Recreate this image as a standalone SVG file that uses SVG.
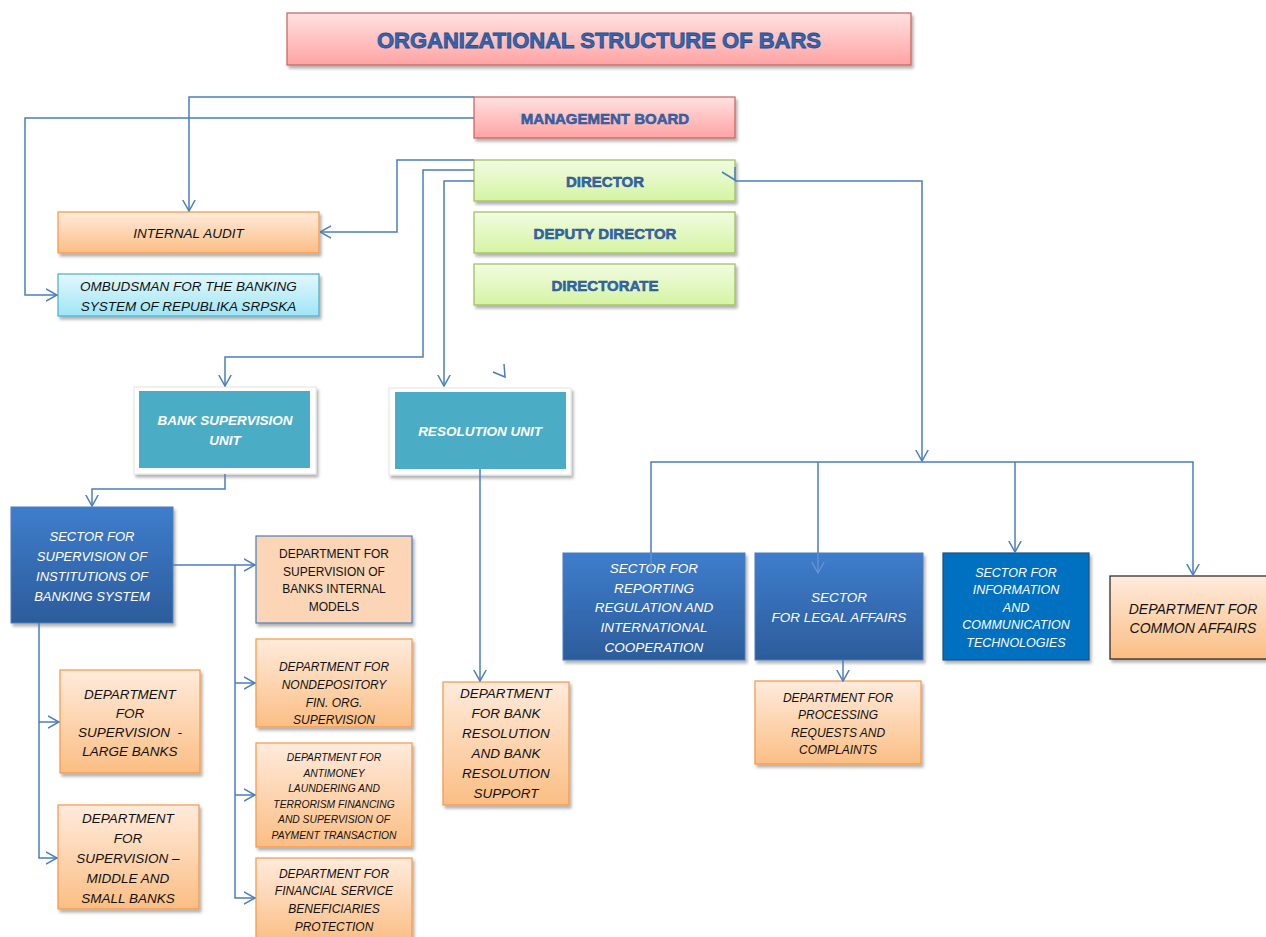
<svg xmlns="http://www.w3.org/2000/svg" width="1266" height="937" viewBox="0 0 1266 937">
<defs>
  <linearGradient id="gRed" x1="0" y1="0" x2="0" y2="1"><stop offset="0" stop-color="#FFE1E1"/><stop offset="1" stop-color="#FFA3A3"/></linearGradient>
  <linearGradient id="gGreen" x1="0" y1="0" x2="0" y2="1"><stop offset="0" stop-color="#F1FCE2"/><stop offset="1" stop-color="#D5F4A2"/></linearGradient>
  <linearGradient id="gOrange" x1="0" y1="0" x2="0" y2="1"><stop offset="0" stop-color="#FFEBDC"/><stop offset="1" stop-color="#FBBE84"/></linearGradient>
  <linearGradient id="gCyan" x1="0" y1="0" x2="0" y2="1"><stop offset="0" stop-color="#E2F8FD"/><stop offset="1" stop-color="#9FE5F6"/></linearGradient>
  <linearGradient id="gBlue" x1="0" y1="0" x2="0" y2="1"><stop offset="0" stop-color="#3E7DCC"/><stop offset="1" stop-color="#2C5C9B"/></linearGradient>
  <filter id="sh" x="-10%" y="-10%" width="130%" height="140%"><feDropShadow dx="2" dy="3" stdDeviation="1.6" flood-color="#000" flood-opacity="0.3"/></filter>
  <marker id="arr" viewBox="0 0 12 14" refX="11.5" refY="7" markerWidth="12" markerHeight="14" markerUnits="userSpaceOnUse" orient="auto">
    <path d="M0.5,0.8 L11.5,7 L0.5,13.2" fill="none" stroke="#4A7EBB" stroke-width="1.5"/>
  </marker>
  <marker id="arrFaint" viewBox="0 0 12 14" refX="11.5" refY="7" markerWidth="12" markerHeight="14" markerUnits="userSpaceOnUse" orient="auto">
    <path d="M0.5,0.8 L11.5,7 L0.5,13.2" fill="none" stroke="#6E95CF" stroke-width="1.2"/>
  </marker>
  <style>
    .red{fill:url(#gRed);stroke:#C9605C;stroke-width:1.2}
    .green{fill:url(#gGreen);stroke:#9BBB59;stroke-width:1.2}
    .orange{fill:url(#gOrange);stroke:#F79646;stroke-width:1.2}
    .cyan{fill:url(#gCyan);stroke:#4BACC6;stroke-width:1.2}
    .blue{fill:url(#gBlue);stroke:#4A7EBB;stroke-width:1}
    .outer{fill:#FFFFFF;stroke:#E4E4E4;stroke-width:1}
    .teal{fill:#4BACC6}
    .sh{filter:url(#sh)}
    text{font-family:"Liberation Sans",Arial,sans-serif;text-anchor:middle}
    .hd{font-weight:bold;fill:#3567B3;stroke:#284C84;stroke-width:0.5;font-size:15px}
    .ttl{font-size:22px;stroke-width:0.8}
    .it{font-style:italic;fill:#111}
    .wi{font-style:italic;fill:#FFFFFF}
    .wb{font-style:italic;font-weight:bold;fill:#FFFFFF;font-size:13.5px}
    .k{fill:#111}
    .c{fill:none;stroke:#4A7EBB;stroke-width:1.5}
    .cf{fill:none;stroke:#6E95CF;stroke-width:1.2}
  </style>
</defs>
<rect width="1266" height="937" fill="#FFFFFF"/>

<g id="title">
  <rect class="red sh" x="287" y="13" width="624" height="52"/>
  <text class="hd ttl" x="599" y="48">ORGANIZATIONAL STRUCTURE OF BARS</text>
</g>

<g id="management-board">
  <rect class="red sh" x="474" y="97" width="261" height="41"/>
  <text class="hd" x="605" y="123.5">MANAGEMENT BOARD</text>
</g>
<g id="director">
  <rect class="green sh" x="474" y="160" width="261" height="41"/>
  <text class="hd" x="605" y="186.5">DIRECTOR</text>
</g>
<g id="deputy-director">
  <rect class="green sh" x="474" y="212" width="261" height="41"/>
  <text class="hd" x="605" y="238.5">DEPUTY DIRECTOR</text>
</g>
<g id="directorate">
  <rect class="green sh" x="474" y="264" width="261" height="41"/>
  <text class="hd" x="605" y="290.5">DIRECTORATE</text>
</g>

<g id="internal-audit">
  <rect class="orange sh" x="58" y="212" width="261" height="41"/>
  <text class="it" font-size="13.5" x="188.5" y="237.5">INTERNAL AUDIT</text>
</g>
<g id="ombudsman">
  <rect class="cyan sh" x="58" y="274" width="261" height="42"/>
  <text class="it" font-size="13.5" x="188.5" y="291">OMBUDSMAN FOR THE BANKING</text>
  <text class="it" font-size="13.5" x="188.5" y="310.5">SYSTEM OF REPUBLIKA SRPSKA</text>
</g>

<g id="bank-supervision-unit">
  <rect class="outer sh" x="134" y="387" width="182" height="87"/>
  <rect class="teal" x="139" y="391" width="171" height="77"/>
  <text class="wb" x="225" y="425">BANK SUPERVISION</text>
  <text class="wb" x="225" y="445">UNIT</text>
</g>
<g id="resolution-unit">
  <rect class="outer sh" x="389" y="388" width="182" height="87"/>
  <rect class="teal" x="395" y="392" width="171" height="77"/>
  <text class="wb" x="480" y="436">RESOLUTION UNIT</text>
</g>

<g id="sector-supervision">
  <rect class="blue sh" x="11" y="507" width="162" height="116"/>
  <text class="wi" font-size="13" x="92" y="540.5">SECTOR FOR</text>
  <text class="wi" font-size="13" x="92" y="560.5">SUPERVISION OF</text>
  <text class="wi" font-size="13" x="92" y="580.5">INSTITUTIONS OF</text>
  <text class="wi" font-size="13" x="92" y="600.5">BANKING SYSTEM</text>
</g>

<g id="dept-internal-models">
  <rect class="sh" x="256" y="536" width="156" height="87" fill="#FBD5B5" stroke="#4A7EBB" stroke-width="1.2"/>
  <text class="k" font-size="12" x="334" y="557.5">DEPARTMENT FOR</text>
  <text class="k" font-size="12" x="334" y="575.5">SUPERVISION OF</text>
  <text class="k" font-size="12" x="334" y="592.5">BANKS INTERNAL</text>
  <text class="k" font-size="12" x="334" y="611">MODELS</text>
</g>
<g id="dept-nondepository">
  <rect class="orange sh" x="256" y="639" width="156" height="88"/>
  <text class="it" font-size="12" x="334" y="670.5">DEPARTMENT FOR</text>
  <text class="it" font-size="12" x="334" y="688.5">NONDEPOSITORY</text>
  <text class="it" font-size="12" x="334" y="706.5">FIN. ORG.</text>
  <text class="it" font-size="12" x="334" y="723.5">SUPERVISION</text>
</g>
<g id="dept-antimoney">
  <rect class="orange sh" x="256" y="743" width="156" height="104"/>
  <text class="it" font-size="10.3" x="334" y="760.5">DEPARTMENT FOR</text>
  <text class="it" font-size="10.3" x="334" y="776.5">ANTIMONEY</text>
  <text class="it" font-size="10.3" x="334" y="791.5">LAUNDERING AND</text>
  <text class="it" font-size="10.3" x="334" y="807.5">TERRORISM FINANCING</text>
  <text class="it" font-size="10.3" x="334" y="822.5">AND SUPERVISION OF</text>
  <text class="it" font-size="10.3" x="334" y="838.5">PAYMENT TRANSACTION</text>
</g>
<g id="dept-financial-service">
  <rect class="orange sh" x="256" y="858" width="156" height="84"/>
  <text class="it" font-size="12" x="334" y="877.5">DEPARTMENT FOR</text>
  <text class="it" font-size="12" x="334" y="894.5">FINANCIAL SERVICE</text>
  <text class="it" font-size="12" x="334" y="912.5">BENEFICIARIES</text>
  <text class="it" font-size="12" x="334" y="930.5">PROTECTION</text>
</g>

<g id="dept-large-banks">
  <rect class="orange sh" x="60" y="670" width="140" height="103"/>
  <text class="it" font-size="13.5" x="130" y="699">DEPARTMENT</text>
  <text class="it" font-size="13.5" x="130" y="718">FOR</text>
  <text class="it" font-size="13.5" x="130" y="737" xml:space="preserve">SUPERVISION  -</text>
  <text class="it" font-size="13.5" x="130" y="756">LARGE BANKS</text>
</g>
<g id="dept-middle-small-banks">
  <rect class="orange sh" x="58" y="805" width="141" height="104"/>
  <text class="it" font-size="13.5" x="128" y="823">DEPARTMENT</text>
  <text class="it" font-size="13.5" x="128" y="843">FOR</text>
  <text class="it" font-size="13.5" x="128" y="863">SUPERVISION –</text>
  <text class="it" font-size="13.5" x="128" y="883">MIDDLE AND</text>
  <text class="it" font-size="13.5" x="128" y="903">SMALL BANKS</text>
</g>

<g id="dept-bank-resolution">
  <rect class="orange sh" x="443" y="682" width="126" height="123"/>
  <text class="it" font-size="13.5" x="506" y="698">DEPARTMENT</text>
  <text class="it" font-size="13.5" x="506" y="718">FOR BANK</text>
  <text class="it" font-size="13.5" x="506" y="738">RESOLUTION</text>
  <text class="it" font-size="13.5" x="506" y="758">AND BANK</text>
  <text class="it" font-size="13.5" x="506" y="778">RESOLUTION</text>
  <text class="it" font-size="13.5" x="506" y="798">SUPPORT</text>
</g>

<g id="sector-reporting">
  <rect class="blue sh" x="563" y="553" width="182" height="107"/>
  <text class="wi" font-size="13.5" x="654" y="572.5">SECTOR FOR</text>
  <text class="wi" font-size="13.5" x="654" y="592.5">REPORTING</text>
  <text class="wi" font-size="13.5" x="654" y="611.5">REGULATION AND</text>
  <text class="wi" font-size="13.5" x="654" y="631.5">INTERNATIONAL</text>
  <text class="wi" font-size="13.5" x="654" y="651.5">COOPERATION</text>
</g>
<g id="sector-legal">
  <rect class="blue sh" x="755" y="553" width="168" height="107"/>
  <text class="wi" font-size="13.5" x="839" y="601.5">SECTOR</text>
  <text class="wi" font-size="13.5" x="839" y="621.5">FOR LEGAL AFFAIRS</text>
</g>
<g id="sector-ict">
  <rect class="sh" x="943" y="553" width="146" height="107" fill="#0070C0" stroke="#1F4E79" stroke-width="1.2"/>
  <text class="wi" font-size="12.5" x="1016" y="576.5">SECTOR FOR</text>
  <text class="wi" font-size="12.5" x="1016" y="593.5">INFORMATION</text>
  <text class="wi" font-size="12.5" x="1016" y="611.5">AND</text>
  <text class="wi" font-size="12.5" x="1016" y="628.5">COMMUNICATION</text>
  <text class="wi" font-size="12.5" x="1016" y="646.5">TECHNOLOGIES</text>
</g>
<g id="dept-common-affairs">
  <rect class="orange sh" x="1110" y="576" width="160" height="83" style="stroke:#222"/>
  <text class="it" font-size="14" x="1193" y="614">DEPARTMENT FOR</text>
  <text class="it" font-size="14" x="1193" y="633">COMMON AFFAIRS</text>
</g>
<g id="dept-processing">
  <rect class="orange sh" x="755" y="681" width="166" height="83"/>
  <text class="it" font-size="12" x="838" y="702">DEPARTMENT FOR</text>
  <text class="it" font-size="12" x="838" y="719">PROCESSING</text>
  <text class="it" font-size="12" x="838" y="737">REQUESTS AND</text>
  <text class="it" font-size="12" x="838" y="754">COMPLAINTS</text>
</g>

<g id="connectors">
  <polyline class="c" points="474,97 189,97 189,211" marker-end="url(#arr)"/>
  <polyline class="c" points="474,118 25,118 25,295 57,295" marker-end="url(#arr)"/>
  <polyline class="c" points="474,160 397,160 397,232 320,232" marker-end="url(#arr)"/>
  <polyline class="c" points="474,170 423,170 423,357 225,357 225,386" marker-end="url(#arr)"/>
  <polyline class="c" points="474,181 444,181 444,386" marker-end="url(#arr)"/>
  <polyline class="c" points="735,181 922,181 922,461" marker-end="url(#arr)"/>
  <polyline class="c" points="722,172 735,180"/>
  <polyline class="c" points="735,167 735,181"/>
  <polyline class="c" points="493,372 505,377 504,364"/>
  <polyline class="c" points="651,553 651,462 1193,462 1193,575" marker-end="url(#arr)"/>
  <line class="c" x1="818" y1="462" x2="818" y2="553"/>
  <line class="cf" x1="651" y1="553" x2="651" y2="572"/>
  <line class="cf" x1="818" y1="553" x2="818" y2="573" marker-end="url(#arrFaint)"/>
  <line class="c" x1="1015" y1="462" x2="1015" y2="552" marker-end="url(#arr)"/>
  <polyline class="c" points="225,474 225,489 92,489 92,506" marker-end="url(#arr)"/>
  <line class="c" x1="173" y1="565" x2="255" y2="565" marker-end="url(#arr)"/>
  <polyline class="c" points="235,565 235,898 255,898" marker-end="url(#arr)"/>
  <line class="c" x1="235" y1="683" x2="255" y2="683" marker-end="url(#arr)"/>
  <line class="c" x1="235" y1="795" x2="255" y2="795" marker-end="url(#arr)"/>
  <polyline class="c" points="39,623 39,858 57,858" marker-end="url(#arr)"/>
  <line class="c" x1="39" y1="722" x2="59" y2="722" marker-end="url(#arr)"/>
  <line class="c" x1="480" y1="469" x2="480" y2="681" marker-end="url(#arr)"/>
  <line class="c" x1="843" y1="660" x2="843" y2="681" marker-end="url(#arr)"/>
</g>
</svg>
